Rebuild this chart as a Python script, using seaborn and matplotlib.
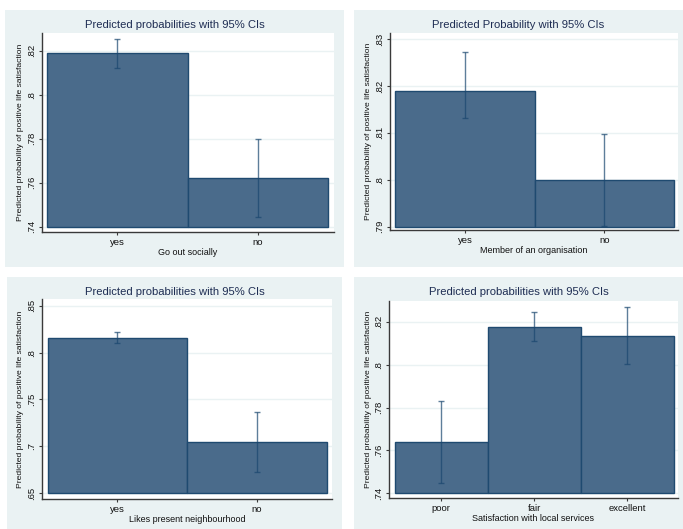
import matplotlib
matplotlib.use("Agg")
import matplotlib.pyplot as plt
from matplotlib.patches import Rectangle
from matplotlib.ticker import FixedLocator, FuncFormatter
import seaborn as sns
import pandas as pd

sns.set_style("white")
plt.rcParams['font.family'] = ['Liberation Sans', 'DejaVu Sans']

# ---------------- data ----------------
social_cats = ["yes", "no"]
social_prob = [0.8188, 0.7620]
social_lo = [0.8123, 0.7443]
social_hi = [0.8253, 0.7799]

member_cats = ["yes", "no"]
member_prob = [0.8190, 0.8000]
member_lo = [0.8131, 0.7902]
member_hi = [0.8272, 0.8097]

neigh_cats = ["yes", "no"]
neigh_prob = [0.8152, 0.7044]
neigh_lo = [0.8099, 0.6724]
neigh_hi = [0.8223, 0.7370]

serv_cats = ["poor", "fair", "excellent"]
serv_prob = [0.7638, 0.8177, 0.8135]
serv_lo = [0.7447, 0.8109, 0.8001]
serv_hi = [0.7832, 0.8247, 0.8270]

titles = ["Predicted probabilities with 95% CIs",
          "Predicted Probability with 95% CIs",
          "Predicted probabilities with 95% CIs",
          "Predicted probabilities with 95% CIs"]
xlabels = ["Go out socially", "Member of an organisation",
           "Likes present neighbourhood", "Satisfaction with local services"]
ylabel = "Predicted probability of positive life satisfaction"

yticks_social = [0.74, 0.76, 0.78, 0.80, 0.82]
yticks_member = [0.79, 0.80, 0.81, 0.82, 0.83]
yticks_neigh = [0.65, 0.70, 0.75, 0.80, 0.85]
yticks_serv = [0.74, 0.76, 0.78, 0.80, 0.82]

# ---------------- style ----------------
W, H = 683, 529
BG = "#EAF2F3"
BAR = "#4a6b8b"
EDGE = "#1f4a70"
CI = "#1a476f"
TITLE_C = "#1e2d53"

fig = plt.figure(figsize=(W / 100, H / 100), dpi=100)
fig.patch.set_facecolor("white")


def px_rect(x0, y0, x1, y1):
    return [x0 / W, (H - y1) / H, (x1 - x0) / W, (y1 - y0) / H]


panels = [
    dict(panel=(5, 10, 344, 267), axes=(41.7, 33, 334, 232),
         ylim=(0.7376, 0.8280), cats=social_cats, prob=social_prob,
         lo=social_lo, hi=social_hi, ticks=yticks_social, base=0.74,
         xm=(0.036, 0.040)),
    dict(panel=(354, 10, 683, 267), axes=(389.7, 33, 678, 230),
         ylim=(0.7893, 0.8313), cats=member_cats, prob=member_prob,
         lo=member_lo, hi=member_hi, ticks=yticks_member, base=0.79,
         xm=(0.040, 0.029)),
    dict(panel=(7, 277, 342, 529), axes=(41.7, 299.3, 332, 499.3),
         ylim=(0.6436, 0.8568), cats=neigh_cats, prob=neigh_prob,
         lo=neigh_lo, hi=neigh_hi, ticks=yticks_neigh, base=0.65,
         xm=(0.043, 0.038)),
    dict(panel=(354, 277, 683, 529), axes=(389, 301, 678, 498.3),
         ylim=(0.7377, 0.8297), cats=serv_cats, prob=serv_prob,
         lo=serv_lo, hi=serv_hi, ticks=yticks_serv, base=0.74,
         xm=(0.061, 0.046)),
]

fmt = FuncFormatter(lambda v, pos: f"{v:g}".lstrip("0"))

for i, p in enumerate(panels):
    x0, y0, x1, y1 = p["panel"]
    fig.patches.append(Rectangle(((x0) / W, (H - y1) / H), (x1 - x0) / W,
                                 (y1 - y0) / H, transform=fig.transFigure,
                                 facecolor=BG, edgecolor="none", zorder=-10))
    ax = fig.add_axes(px_rect(*p["axes"]))
    ax.set_facecolor("white")

    df = pd.DataFrame({"cat": p["cats"], "prob": p["prob"]})
    sns.barplot(data=df, x="cat", y="prob", order=p["cats"], width=1.0,
                color=BAR, saturation=1, edgecolor=EDGE, linewidth=1.0,
                errorbar=None, ax=ax, zorder=2)
    # bars start at the axis baseline, as in the original
    for patch in ax.patches:
        top = patch.get_y() + patch.get_height()
        patch.set_y(p["base"])
        patch.set_height(top - p["base"])

    n = len(p["cats"])
    xs = list(range(n))
    yerr = [[pr - l for pr, l in zip(p["prob"], p["lo"])],
            [h - pr for pr, h in zip(p["prob"], p["hi"])]]
    ax.errorbar(xs, p["prob"], yerr=yerr, fmt="none", ecolor=CI,
                elinewidth=1.0, capsize=2.5, capthick=1.0, alpha=0.7,
                zorder=3)

    ax.set_xlim(-0.5 - p["xm"][0], n - 0.5 + p["xm"][1])
    ax.set_ylim(*p["ylim"])
    ax.yaxis.set_major_locator(FixedLocator(p["ticks"]))
    ax.yaxis.set_major_formatter(fmt)
    ax.grid(axis="y", color=BG, linewidth=1.0, zorder=0)
    ax.set_axisbelow(True)

    for s in ["top", "right"]:
        ax.spines[s].set_visible(False)
    for s in ["left", "bottom"]:
        ax.spines[s].set_color("#3a3a3a")
        ax.spines[s].set_linewidth(1.0)

    ax.tick_params(axis="both", direction="out", length=2.5, width=0.8,
                   color="#3a3a3a", labelsize=6.8, labelcolor="#111111",
                   pad=1.5)
    ax.tick_params(axis="y", left=True, labelrotation=90)
    ax.tick_params(axis="x", bottom=True)
    for lab in ax.get_yticklabels():
        lab.set_verticalalignment("center")

    ax.set_xlabel(xlabels[i], fontsize=6.5, color="#111111", labelpad=0.8)
    ax.set_ylabel(ylabel, fontsize=6.1, color="#111111", labelpad=2.0)

    tx = (x0 + x1) / 2 / W
    ty = (H - (y0 + (15.5 if i < 2 else 15.3))) / H
    fig.text(tx, ty, titles[i], ha="center", va="center", fontsize=8.1,
             color=TITLE_C)

fig.savefig("out.png", dpi=100, facecolor="white")
